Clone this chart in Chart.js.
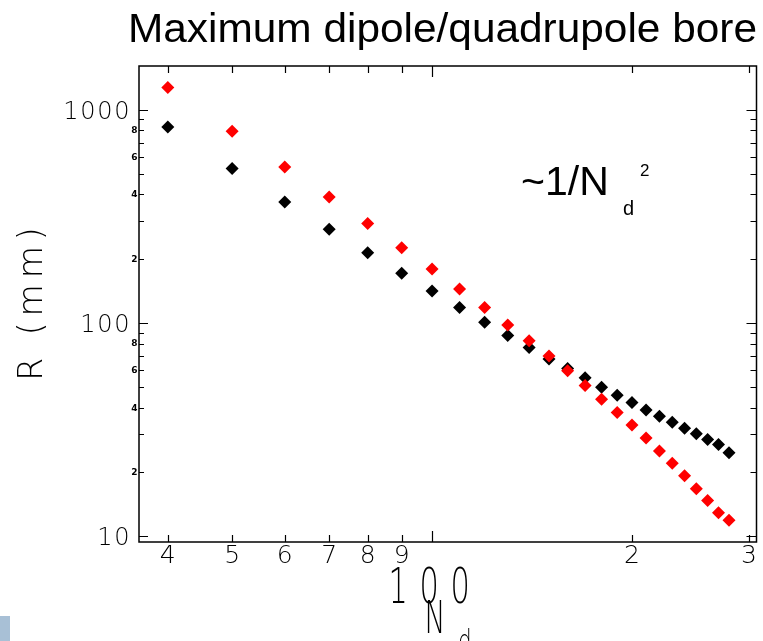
<!DOCTYPE html>
<html>
<head>
<meta charset="utf-8">
<script src="https://cdn.jsdelivr.net/npm/chart.js@4"></script>
<style>
  html, body { margin: 0; padding: 0; background: #fff; }
  #wrap { position: relative; width: 763px; height: 641px; }
  #corner { position: absolute; left: 0; top: 616px; width: 10px; height: 25px; background: #a8c0d6; }
</style>
</head>
<body>
<div id="wrap">
  <canvas id="boreChart" width="763" height="641"></canvas>
  <div id="corner"></div>
</div>
<script>
const nd = [40, 50, 60, 70, 80, 90, 100, 110, 120, 130, 140, 150, 160, 170, 180, 190,
            200, 210, 220, 230, 240, 250, 260, 270, 280];
// bore radius in mm, black series
const rBlack = [829, 529, 369, 275, 213, 171, 141, 118, 100.8, 87.3, 76.7, 67.8, 61.1, 55.3,
                50.0, 45.8, 42.4, 39.1, 36.5, 34.2, 32.1, 30.2, 28.4, 26.9, 24.6];
// bore radius in mm, red series
const rRed = [1268, 791, 538, 389, 292, 225, 179, 144, 118.1, 97.9, 82.4, 70.0, 59.6, 50.9,
              43.9, 38.0, 33.2, 28.9, 25.1, 22.0, 19.2, 16.7, 14.7, 12.9, 11.9];

const xTicks = [40, 50, 60, 70, 80, 90, 100, 200, 300];
const xMinorLabels = ['4', '5', '6', '7', '8', '9', '', '2', '3'];
const yMajor = [10, 100, 1000];
const yMinor = [20, 30, 40, 50, 60, 70, 80, 90, 200, 300, 400, 500, 600, 700, 800, 900];
const yMinorLabeled = [20, 40, 60, 80, 200, 400, 600, 800];

const toPts = (ys) => nd.map((n, i) => ({ x: n, y: ys[i] }));

const thin = (size) => '200 ' + size + 'px "DejaVu Sans", sans-serif';

// draw characters one by one, centred on fixed positions, squeezed horizontally
function spaced(ctx, str, cx, base, step, font, sx) {
  ctx.font = font;
  ctx.textAlign = 'center';
  ctx.textBaseline = 'alphabetic';
  const n = str.length;
  for (let i = 0; i < n; i++) {
    const px = cx + (i - (n - 1) / 2) * step;
    ctx.save();
    ctx.translate(px, base);
    ctx.scale(sx, 1);
    ctx.fillText(str[i], 0, 0);
    ctx.restore();
  }
}

const frame = {
  id: 'frame',
  afterDraw(chart) {
    const { ctx, chartArea: a, scales: { x, y } } = chart;
    ctx.save();
    ctx.strokeStyle = '#000';
    ctx.fillStyle = '#000';
    ctx.lineWidth = 1.5;
    ctx.strokeRect(a.left, a.top, a.right - a.left, a.bottom - a.top);

    // x ticks, bottom and top, pointing inwards
    ctx.beginPath();
    xTicks.forEach(v => {
      const px = Math.round(x.getPixelForValue(v)) + 0.5;
      const len = v === 100 ? 11 : 7;
      ctx.moveTo(px, a.bottom); ctx.lineTo(px, a.bottom - len);
      ctx.moveTo(px, a.top); ctx.lineTo(px, a.top + len);
    });
    // y ticks, left and right
    yMajor.concat(yMinor).forEach(v => {
      const py = Math.round(y.getPixelForValue(v)) + 0.5;
      const len = yMajor.includes(v) ? 9 : 5;
      ctx.moveTo(a.left, py); ctx.lineTo(a.left + len, py);
      ctx.moveTo(a.right, py); ctx.lineTo(a.right - len - 1, py);
    });
    ctx.lineWidth = 1.2;
    ctx.stroke();

    // y labels
    yMajor.forEach(v => {
      const py = y.getPixelForValue(v);
      const s = String(v);
      const cx = 122 - (s.length - 1) * 17 / 2;
      spaced(ctx, s, cx, py + 9, 17, thin(24), 1);
    });
    ctx.font = 'bold 9px "DejaVu Sans", sans-serif';
    ctx.textAlign = 'right';
    ctx.textBaseline = 'middle';
    yMinorLabeled.forEach(v => {
      ctx.fillText(String(v).charAt(0), 137.5, y.getPixelForValue(v) + 0.5);
    });

    // x labels
    xTicks.forEach((v, i) => {
      if (!xMinorLabels[i]) return;
      spaced(ctx, xMinorLabels[i], x.getPixelForValue(v), 563, 0, thin(25), 1);
    });
    spaced(ctx, '100', x.getPixelForValue(100) - 3, 603, 31, thin(49), 0.62);
    spaced(ctx, 'N', 435, 633, 0, thin(45), 0.62);
    spaced(ctx, 'd', 465, 650, 0, thin(28), 0.75);

    // y title
    ctx.save();
    ctx.translate(42, 304);
    ctx.rotate(-Math.PI / 2);
    ctx.font = thin(33);
    ctx.textAlign = 'center';
    ctx.textBaseline = 'alphabetic';
    ctx.letterSpacing = '6px';
    ctx.fillText('R (mm)', 3, 0);
    ctx.restore();

    // title
    ctx.font = '40px "Liberation Sans", Arial, sans-serif';
    ctx.textAlign = 'left';
    ctx.textBaseline = 'alphabetic';
    const title = 'Maximum dipole/quadrupole bore';
    const tw = ctx.measureText(title).width;
    ctx.save();
    ctx.translate(128, 42);
    ctx.scale(629 / tw, 1);
    ctx.fillText(title, 0, 0);
    ctx.restore();

    // scaling note
    ctx.font = '41px "Liberation Sans", Arial, sans-serif';
    ctx.fillText('~1/N', 521, 195);
    ctx.font = '20px "Liberation Sans", Arial, sans-serif';
    ctx.fillText('d', 623, 215);
    ctx.font = '17px "Liberation Sans", Arial, sans-serif';
    ctx.fillText('2', 640, 176);
    ctx.restore();
  }
};

new Chart(document.getElementById('boreChart'), {
  type: 'scatter',
  data: {
    datasets: [
      {
        data: toPts(rRed),
        pointStyle: 'rectRot',
        pointRadius: 6.5,
        borderWidth: 0,
        backgroundColor: '#ff0000',
        borderColor: '#ff0000'
      },
      {
        data: toPts(rBlack),
        pointStyle: 'rectRot',
        pointRadius: 6.5,
        borderWidth: 0,
        backgroundColor: '#000000',
        borderColor: '#000000'
      }
    ]
  },
  options: {
    responsive: false,
    animation: false,
    events: [],
    layout: { padding: { left: 139, right: 6, top: 66, bottom: 99 } },
    plugins: { legend: { display: false }, tooltip: { enabled: false } },
    scales: {
      x: { type: 'logarithmic', min: 36.2, max: 308, display: false },
      y: { type: 'logarithmic', min: 9.4, max: 1600, display: false }
    }
  },
  plugins: [frame]
});
</script>
</body>
</html>
